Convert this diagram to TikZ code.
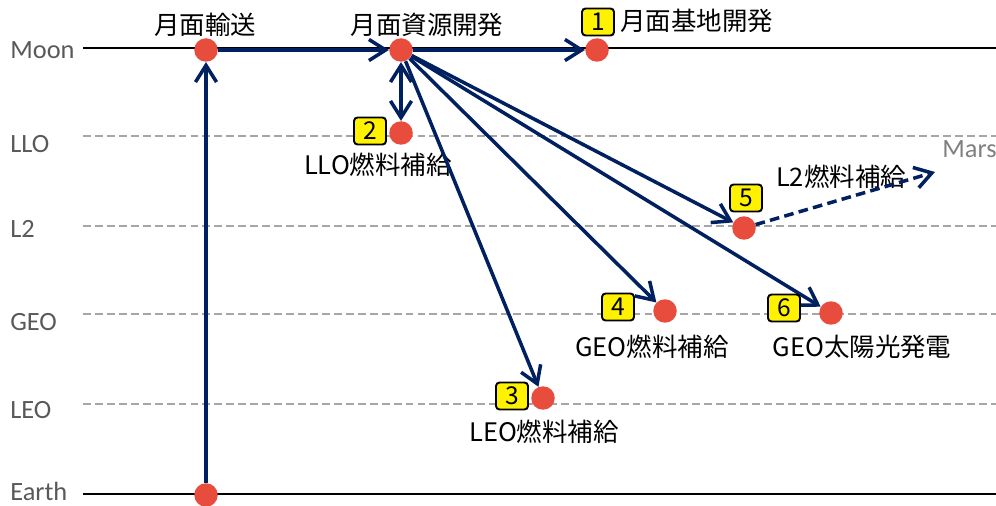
\documentclass[tikz,border=0pt]{standalone}
\usepackage{fontspec}
\setmainfont{Noto Sans CJK JP}
\newfontfamily\latinfont{Carlito}
\usetikzlibrary{arrows.meta,positioning}
\definecolor{navy}{HTML}{002060}
\definecolor{dotred}{HTML}{E84C3D}
\definecolor{levelgray}{HTML}{A6A6A6}
\definecolor{textgray}{HTML}{595959}
\definecolor{marsgray}{HTML}{808080}

\begin{document}
\begin{tikzpicture}[x=0.02cm,y=-0.02cm,
    >={Straight Barb[length=9.5pt,width=12pt]},
    dot/.style={circle,fill=dotred,minimum size=0.47cm,inner sep=0pt},
    numbox/.style={draw=black,fill=yellow,line width=1.1pt,rounded corners=2pt,
        minimum width=0.64cm,minimum height=0.54cm,inner sep=0pt,font=\fontsize{14}{14}\selectfont},
    route/.style={->,draw=navy,line width=2pt},
    sitelbl/.style={font=\fontsize{14.5}{16}\selectfont,inner sep=0pt},
    orbitlbl/.style={font=\latinfont\fontsize{15}{16}\selectfont,text=textgray,anchor=base west,inner sep=0pt}]
    \useasboundingbox (0,0) rectangle (996,506);
    % orbit levels
    \foreach \y/\yb/\lv in {48/59/Moon,494/500/Earth}{
        \draw[line width=0.9pt] (83,\y) -- (996,\y);
        \node[orbitlbl] (lv-\lv) at (10,\yb) {\lv};}
    \foreach \y/\yb/\lv in {136/153/LLO,226/238/L2,314/330/GEO,404/418/LEO}{
        \draw[levelgray,line width=0.8pt,dash pattern=on 4.5pt off 2.3pt] (83,\y) -- (996,\y);
        \node[orbitlbl] (lv-\lv) at (10,\yb) {\lv};}
    % sites
    \node[dot] (earth) at (206,495) {};
    \node[dot] (trans) at (206,50) {};
    \node[dot] (res) at (401,50) {};
    \node[dot] (base) at (597,50) {};
    \node[dot] (llo) at (401,133) {};
    \node[dot] (leo) at (543,398) {};
    \node[dot] (geo) at (665,311) {};
    \node[dot] (l2) at (744,228) {};
    \node[dot] (sps) at (831,313) {};
    \coordinate (mars) at (935,172);
    % labels
    \node[sitelbl] (t-trans) at (205,25) {月面輸送};
    \node[sitelbl] (t-res) at (427,25) {月面資源開発};
    \node[sitelbl,anchor=west] (t-base) at (620,21) {月面基地開発};
    \node[sitelbl] (t-llo) at (378,165) {LLO燃料補給};
    \node[sitelbl] (t-leo) at (544,432) {LEO燃料補給};
    \node[sitelbl] (t-geo) at (652,347) {GEO燃料補給};
    \node[sitelbl] (t-sps) at (862,347) {GEO太陽光発電};
    \node[sitelbl] (t-l2) at (841,177) {L2燃料補給};
    \node[orbitlbl,text=marsgray] (t-mars) at (942,158) {Mars};
    % routes
    \draw[route] (earth) -- (trans);
    \draw[route] (trans) -- (res);
    \draw[route] (res) -- (base);
    \draw[route,<->] (res) -- (llo);
    \foreach \t in {leo,geo,l2,sps}
        \draw[route] (res) -- (\t);
    \draw[route,dash pattern=on 5.5pt off 3pt] (l2) -- (mars);
    % numbers
    \foreach \n/\x/\y in {1/598/22,2/370/131,3/512/396,4/618/307,5/746/198,6/784/308}
        \node[numbox] (n\n) at (\x,\y) {\n};
\end{tikzpicture}
\end{document}
